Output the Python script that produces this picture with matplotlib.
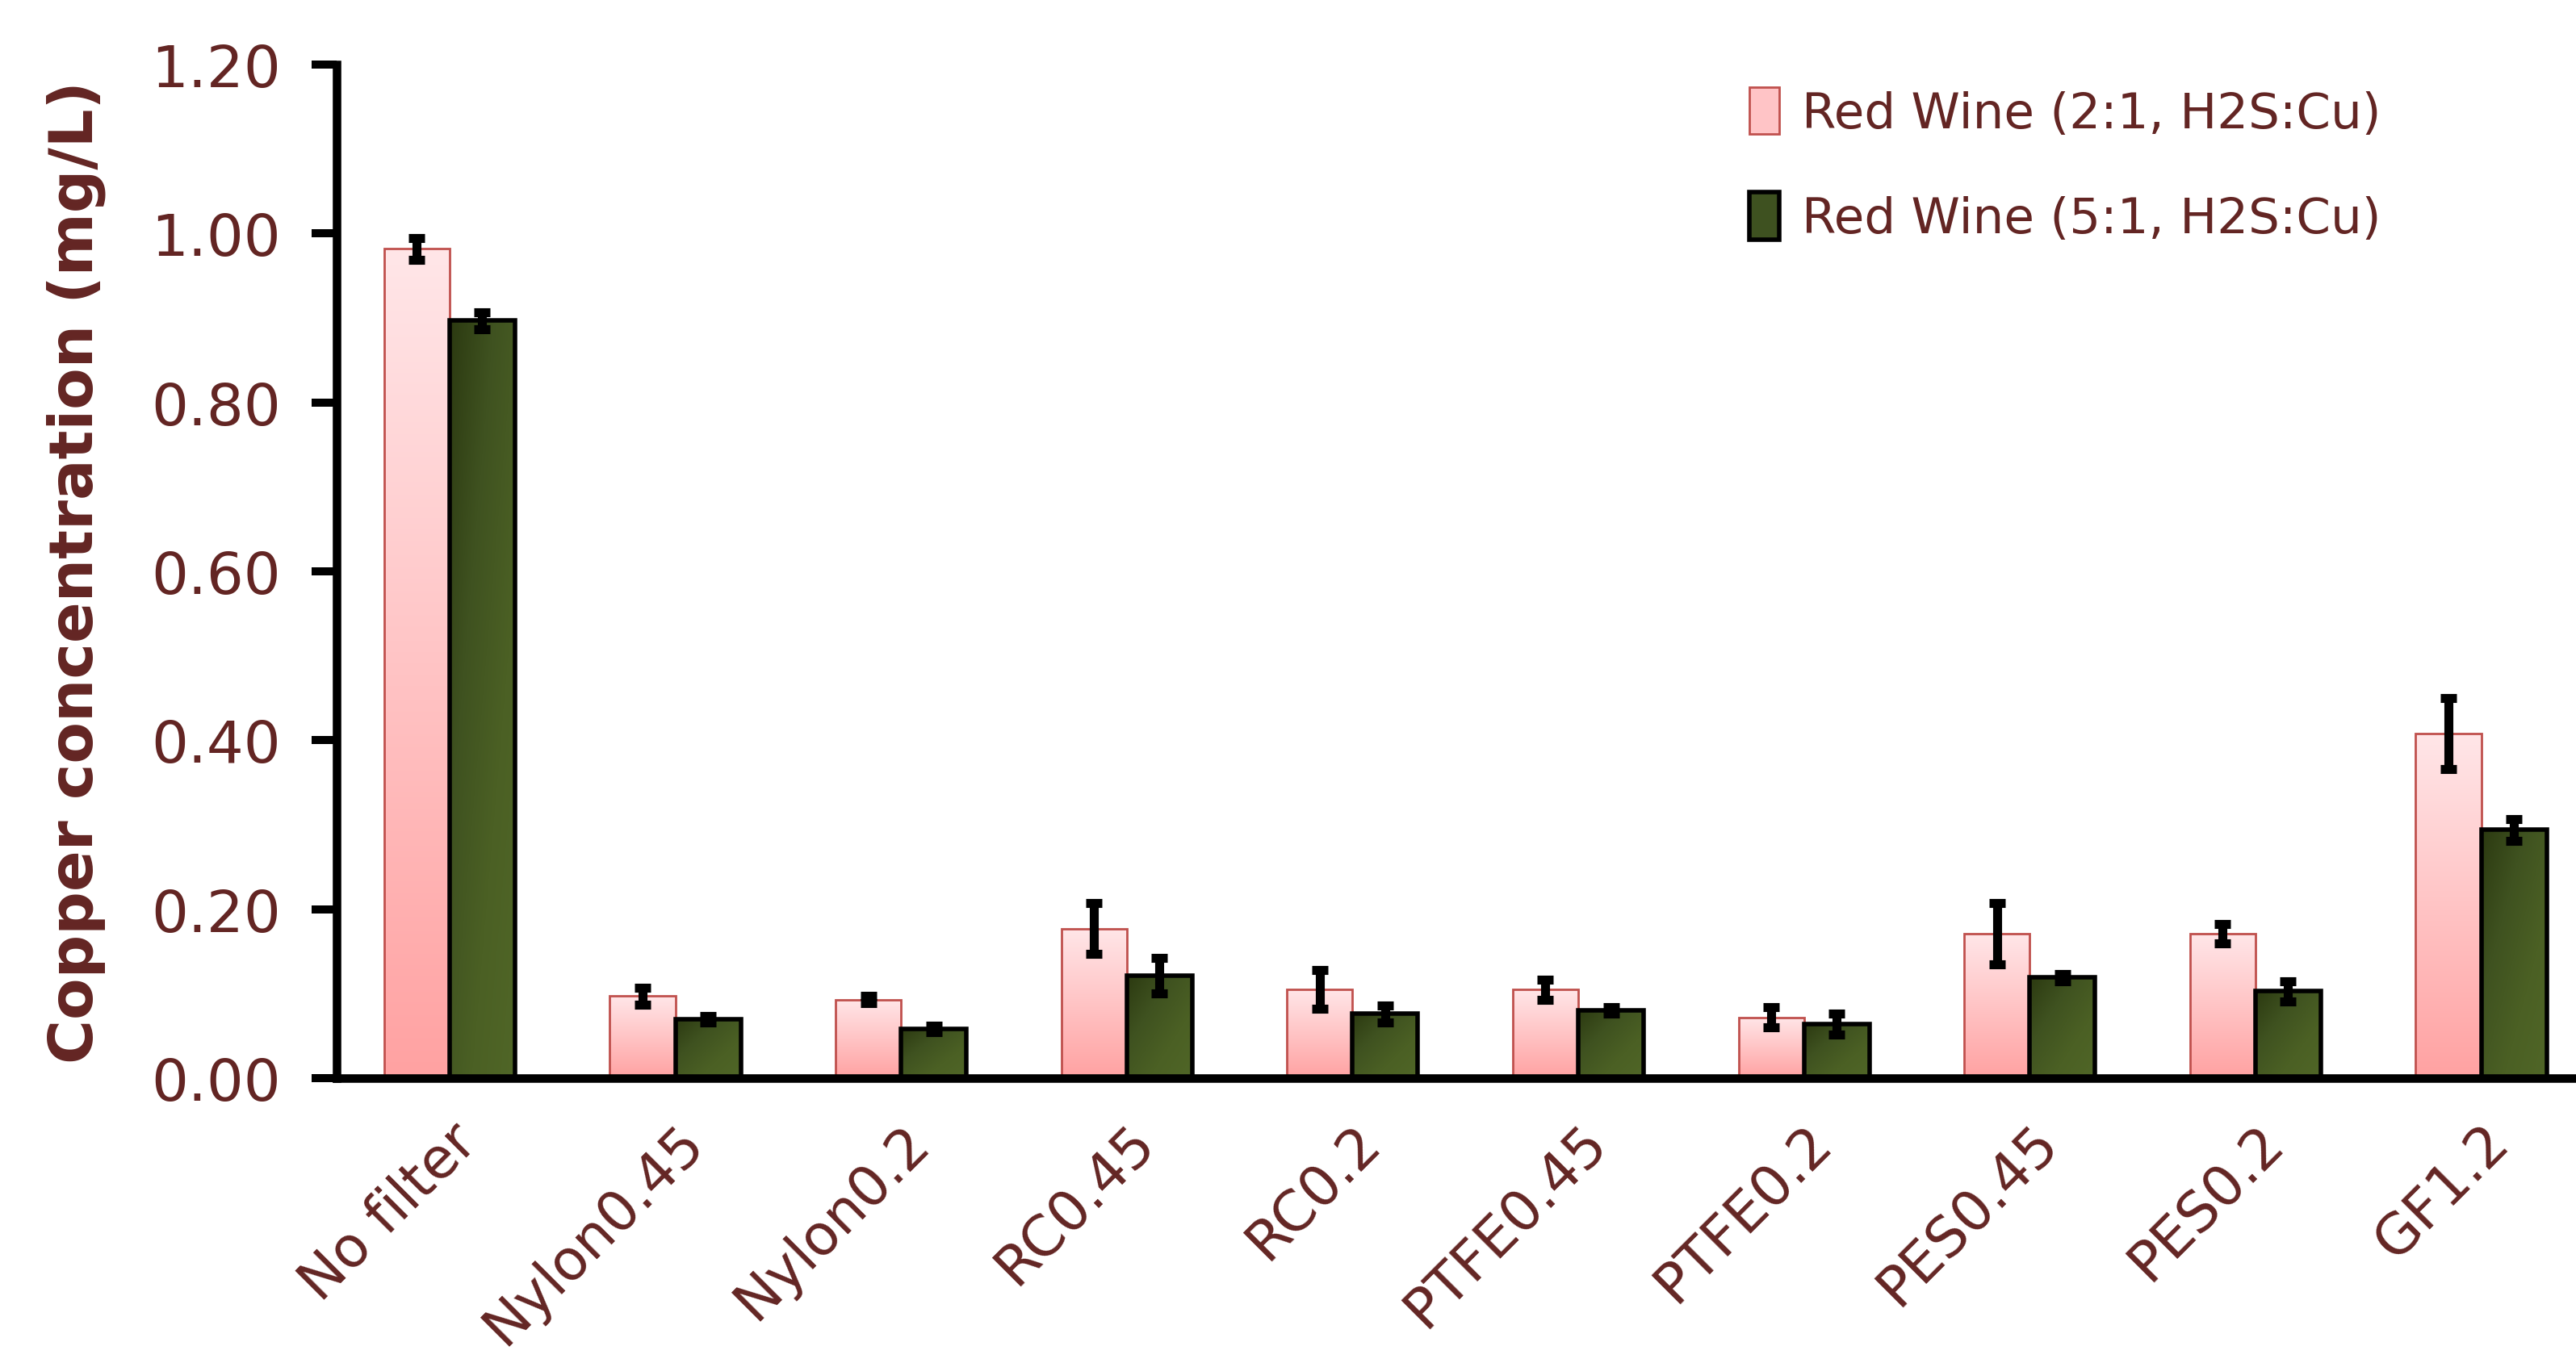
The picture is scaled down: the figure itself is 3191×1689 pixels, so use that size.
import numpy as np
import matplotlib.pyplot as plt
from matplotlib.colors import LinearSegmentedColormap
from matplotlib.patches import Patch

# Data
filters = ['No filter', 'Nylon0.45', 'Nylon0.2', 'RC0.45', 'RC0.2',
           'PTFE0.45', 'PTFE0.2', 'PES0.45', 'PES0.2', 'GF1.2']
wine_2to1 = [0.982, 0.097, 0.093, 0.177, 0.105, 0.105, 0.072, 0.171, 0.171, 0.408]
err_2to1 = [0.013, 0.010, 0.004, 0.030, 0.023, 0.012, 0.012, 0.036, 0.011, 0.042]
wine_5to1 = [0.897, 0.070, 0.058, 0.121, 0.076, 0.080, 0.064, 0.119, 0.103, 0.294]
err_5to1 = [0.010, 0.004, 0.004, 0.021, 0.010, 0.004, 0.012, 0.004, 0.012, 0.013]
labels = ['Red Wine (2:1, H2S:Cu)', 'Red Wine (5:1, H2S:Cu)']
yticks = [0.0, 0.2, 0.4, 0.6, 0.8, 1.0, 1.2]

txt_color = '#632523'
plt.rcParams['font.family'] = ['DejaVu Sans']

pink_cmap = LinearSegmentedColormap.from_list('pink', ['#FFA2A2', '#FFE6E8'])
green_cmap = LinearSegmentedColormap.from_list('green', ['#2C3A11', '#3F5220', '#4B6024', '#506627'])

fig = plt.figure(figsize=(15.955, 8.45), dpi=200)
ax = fig.add_axes([0.1307, 0.2089, 0.8693, 0.7431])

x = np.arange(len(filters))
w = 0.29


def fill_gradient(bars, cmap, diagonal=False):
    for b in bars:
        bx, by = b.get_xy()
        bw, bh = b.get_width(), b.get_height()
        u = np.linspace(0, 1, 50)
        v = np.linspace(0, 1, 200)
        U, V = np.meshgrid(u, v)
        if diagonal:
            arr = (U + (1 - V)) / 2
        else:
            arr = V
        im = ax.imshow(arr, extent=[bx, bx + bw, by, by + bh], origin='lower',
                       cmap=cmap, aspect='auto', zorder=1, interpolation='bilinear')
        im.set_clip_path(b)


b1 = ax.bar(x - w / 2, wine_2to1, w, facecolor='none', edgecolor='#C0504D',
            linewidth=1.0, zorder=2)
b2 = ax.bar(x + w / 2, wine_5to1, w, facecolor='none', edgecolor='black',
            linewidth=2.0, zorder=2)
fill_gradient(b1, pink_cmap)
fill_gradient(b2, green_cmap, diagonal=True)

ax.errorbar(x - w / 2, wine_2to1, yerr=err_2to1, fmt='none', ecolor='black',
            elinewidth=4, capsize=3.5, capthick=4, zorder=3)
ax.errorbar(x + w / 2, wine_5to1, yerr=err_5to1, fmt='none', ecolor='black',
            elinewidth=4, capsize=3.5, capthick=4, zorder=3)

ax.set_xlim(-0.5, 9.42)
ax.set_ylim(0, 1.2)
ax.set_yticks(yticks)
ax.set_yticklabels(['%.2f' % t for t in yticks], fontsize=26, color=txt_color)
ax.set_xticks(x)
ax.set_xticklabels(filters, rotation=45, ha='right', rotation_mode='anchor',
                   fontsize=25, color=txt_color)
ax.tick_params(axis='x', length=0, pad=16)
ax.tick_params(axis='y', length=11, width=3.6, direction='out', pad=14)

for s in ['top', 'right']:
    ax.spines[s].set_visible(False)
ax.spines['left'].set_linewidth(3.8)
ax.spines['bottom'].set_linewidth(3.8)

ax.set_ylabel('Copper concentration (mg/L)', fontsize=27, fontweight='bold',
              color=txt_color, labelpad=20)

# legend proxies
handles = [Patch(facecolor='#FFC4C6', edgecolor='#C0504D', linewidth=1.0),
           Patch(facecolor='#3E5120', edgecolor='black', linewidth=2.0)]
leg = ax.legend(handles, labels, loc='upper left', bbox_to_anchor=(0.631, 0.978),
                frameon=False, fontsize=22, handlelength=0.6, handleheight=1.1,
                handletextpad=0.45, labelspacing=1.1, borderpad=0, borderaxespad=0)
for t in leg.get_texts():
    t.set_color(txt_color)

fig.savefig('out.png', dpi=200)
